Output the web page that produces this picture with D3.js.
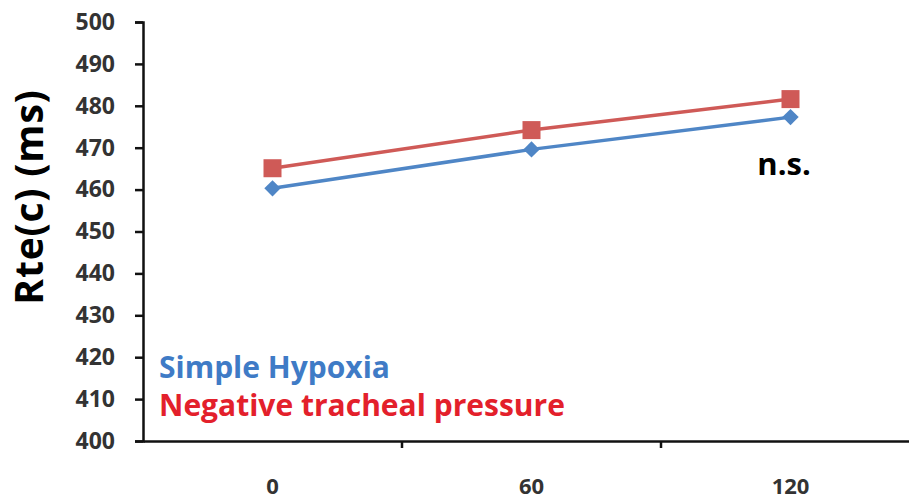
<!DOCTYPE html>
<html>
<head>
<meta charset="utf-8">
<script src="https://cdn.jsdelivr.net/npm/d3@7"></script>
<style>
  body { margin: 0; background: #fff; }
  svg { display: block; }
</style>
</head>
<body>
<div id="chart"></div>
<script>
// Data
const categories = ['0', '60', '120'];
const simpleHypoxia = [460.3, 469.6, 477.3];
const negativePressure = [465.1, 474.2, 481.6];
const yTicks = [400, 410, 420, 430, 440, 450, 460, 470, 480, 490, 500];

const W = 909, H = 501;
const margin = { top: 22, left: 143, bottom: 60 };
const plotBottom = H - margin.bottom;

const svg = d3.select('#chart').append('svg')
    .attr('width', W)
    .attr('height', H);

// X scale: Excel-style category bands, ticks on band edges
const x = d3.scaleBand()
    .domain(categories)
    .range([margin.left, 920])
    .padding(0);

const y = d3.scaleLinear()
    .domain([400, 500])
    .range([plotBottom, margin.top]);

const font = "'Open Sans', 'Liberation Sans', sans-serif";

// Y axis
const yAxis = svg.append('g')
    .attr('transform', `translate(${margin.left},0)`)
    .call(d3.axisLeft(y).tickValues(yTicks).tickSize(8).tickPadding(20));
yAxis.select('.domain').attr('stroke', '#111').attr('stroke-width', 2.5);
yAxis.selectAll('.tick line').attr('stroke', '#111').attr('stroke-width', 2.5);
yAxis.selectAll('.tick text')
    .style('font-family', font)
    .style('font-weight', 'bold')
    .style('font-size', '23px')
    .attr('fill', '#333');

// X axis
const xAxis = svg.append('g')
    .attr('transform', `translate(0,${plotBottom})`)
    .call(d3.axisBottom(x).tickSize(0).tickPadding(37));
xAxis.select('.domain').attr('stroke', '#111').attr('stroke-width', 2.5);
xAxis.selectAll('.tick text')
    .style('font-family', font)
    .style('font-weight', 'bold')
    .style('font-size', '22px')
    .attr('fill', '#333');

// tick marks at band boundaries
svg.append('g')
    .selectAll('line')
    .data(categories.slice(1))
    .enter()
    .append('line')
    .attr('x1', d => x(d))
    .attr('x2', d => x(d))
    .attr('y1', plotBottom)
    .attr('y2', plotBottom + 7)
    .attr('stroke', '#111')
    .attr('stroke-width', 2.5);

// Y axis label
svg.append('text')
    .attr('transform', `translate(43,197) rotate(-90)`)
    .attr('text-anchor', 'middle')
    .style('font-family', font)
    .style('font-weight', 'bold')
    .style('font-size', '39px')
    .style('letter-spacing', '0.8px')
    .attr('fill', '#000')
    .text('Rte(c) (ms)');

const cx = d => x(d) + x.bandwidth() / 2;

const line = d3.line()
    .x((d, i) => cx(categories[i]))
    .y(d => y(d));

// Negative tracheal pressure (red squares)
svg.append('path')
    .datum(negativePressure)
    .attr('d', line)
    .attr('fill', 'none')
    .attr('stroke', '#cf5a57')
    .attr('stroke-width', 3.5);

svg.append('g')
    .selectAll('rect')
    .data(negativePressure)
    .enter()
    .append('rect')
    .attr('x', (d, i) => cx(categories[i]) - 9)
    .attr('y', d => y(d) - 9)
    .attr('width', 18)
    .attr('height', 18)
    .attr('fill', '#cf5a57');

// Simple Hypoxia (blue diamonds)
svg.append('path')
    .datum(simpleHypoxia)
    .attr('d', line)
    .attr('fill', 'none')
    .attr('stroke', '#4f86c6')
    .attr('stroke-width', 3.5);

svg.append('g')
    .selectAll('path.pt')
    .data(simpleHypoxia)
    .enter()
    .append('path')
    .attr('class', 'pt')
    .attr('d', d3.symbol().type(d3.symbolDiamond2).size(170))
    .attr('transform', (d, i) => `translate(${cx(categories[i])},${y(d)})`)
    .attr('fill', '#4f86c6');

// n.s. annotation
svg.append('text')
    .attr('x', 784)
    .attr('y', 175)
    .attr('text-anchor', 'middle')
    .style('font-family', font)
    .style('font-weight', 'bold')
    .style('font-size', '31px')
    .attr('fill', '#000')
    .text('n.s.');

// Legend text
const legend = [
    { label: 'Simple Hypoxia', color: '#3f7bc6' },
    { label: 'Negative tracheal pressure', color: '#e3202b' }
];
svg.append('g')
    .selectAll('text')
    .data(legend)
    .enter()
    .append('text')
    .attr('x', 159)
    .attr('y', (d, i) => 378 + i * 38)
    .style('font-family', font)
    .style('font-weight', 'bold')
    .style('font-size', '30px')
    .attr('fill', d => d.color)
    .text(d => d.label);
</script>
</body>
</html>
